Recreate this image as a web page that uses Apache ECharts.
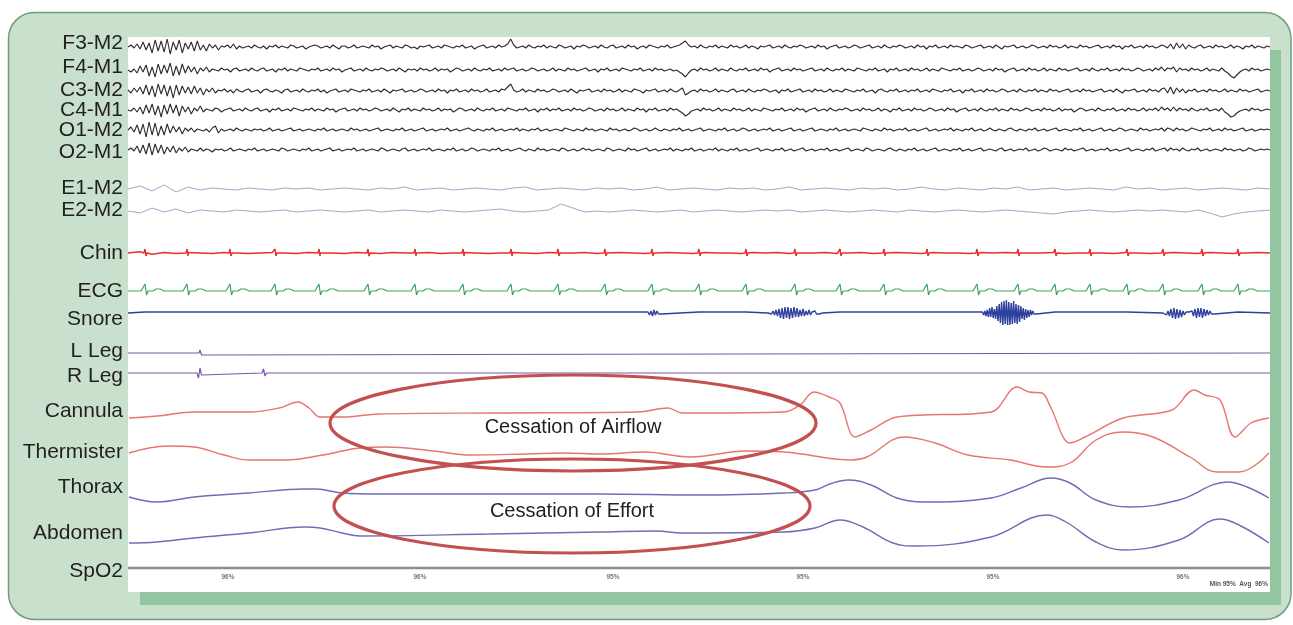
<!DOCTYPE html>
<html><head><meta charset="utf-8">
<script src="https://cdn.jsdelivr.net/npm/echarts@6/dist/echarts.min.js"></script>
<style>html,body{margin:0;padding:0;background:#fff}#c{width:1293px;height:625px}</style>
</head><body><div id="c"></div><script>
// ---------------- DATA (deflections in trace units, + = up; time t in 0..1142) ----------------
const channelNames = ["F3-M2","F4-M1","C3-M2","C4-M1","O1-M2","O2-M1","E1-M2","E2-M2","Chin","ECG","Snore","L Leg","R Leg","Cannula","Thermister","Thorax","Abdomen","SpO2"];

const f3m2 = [0,2,-1,3,-2,5,-3,4,-6,7,-4,6,-5,8,-7,5,-3,7,-6,4,
 -2,5,-4,6,-3,2,-4,3,-1,2,-3,1,0,2,-1,3,-2,1,-1,0,
 1,-1,2,0,-1,1,-2,1,0,2,-1,1,0,-1,2,1,-1,0,1,-2,
 0,1,2,1,-1,0,1,-1,2,0,-2,1,1,-1,0,2,-1,0,1,0,
 -1,2,0,1,-2,0,1,2,-1,1,0,-1,2,1,-1,0,-2,1,0,1,
 2,-1,0,1,-1,2,1,0,-1,1,0,2,-1,0,1,-2,0,1,2,-1,
 0,1,-1,2,0,1,3,8,2,-1,0,1,-1,2,0,-1,1,0,2,-1,
 1,0,-1,2,1,-1,0,1,-2,1,0,2,1,-1,0,1,-1,2,0,-1,
 1,2,-1,0,1,-1,2,0,1,-2,0,1,-1,2,1,0,-1,1,0,2,
 -1,0,1,2,4,6,2,0,1,-1,2,0,-1,1,0,2,-1,1,0,-1,
 2,0,1,-1,0,2,-1,1,0,-2,1,0,1,2,-1,0,1,-1,2,0,
 -1,1,0,2,1,-1,0,1,-1,2,0,1,-2,0,1,2,-1,0,1,-1,
 0,2,1,-1,0,1,2,-1,0,1,-1,2,0,-1,1,0,2,1,-1,0,
 1,-1,2,0,1,-2,1,0,2,-1,0,1,-1,2,0,1,0,-1,2,1,
 -1,0,1,2,-1,0,1,-1,2,0,-2,1,0,1,2,-1,0,1,-1,0,
 2,1,-1,0,1,-1,2,0,1,-1,0,2,-1,1,0,-1,2,0,1,-1,
 0,1,2,-1,0,1,-1,2,0,1,-2,1,0,2,-1,0,1,-1,2,0,
 1,-1,0,2,1,-1,3,-2,4,-1,3,-2,2,0,-1,1,2,-1,0,1,
 -1,2,0,1,-1,0,2,-1,1,0,-2,1,0,2,-1,1,0,-1,1,0];
const f4m1 = [0,-2,1,-3,4,-2,5,-6,3,-7,6,-4,5,-3,7,-6,4,-5,6,-3,
 4,-2,3,-4,2,-1,3,-2,1,0,-1,2,0,1,-2,1,2,-1,0,1,
 -1,2,0,-1,1,2,-1,0,1,-2,1,0,2,-1,1,0,-1,2,1,0,
 -1,1,0,2,-1,0,1,-1,2,0,1,-2,0,1,2,-1,0,1,-1,2,
 0,-1,1,0,2,1,-1,0,1,-1,2,0,-2,1,0,1,-1,2,0,1,
 -1,0,2,-1,1,0,1,-2,0,2,1,-1,0,1,-1,2,0,-1,1,0,
 2,-1,0,1,-1,2,0,1,2,-1,0,1,-1,0,2,1,-1,0,1,-1,
 0,2,-1,1,0,-1,2,0,1,-1,0,1,2,-1,0,1,-2,1,0,2,
 -1,0,1,-1,2,1,0,-1,1,0,2,-1,0,1,-1,2,0,1,-1,0,
 1,-1,0,-2,-4,-7,-3,0,1,-1,2,0,1,-1,0,2,-1,1,0,-1,
 2,0,-1,1,0,2,-1,0,1,-1,2,0,1,-2,0,1,2,-1,0,1,
 -1,2,0,1,-1,0,1,2,-1,0,1,-1,2,0,-1,1,0,2,-1,1,
 0,-1,2,1,0,-1,1,0,2,-1,0,1,-2,1,0,2,-1,0,1,-1,
 2,0,1,-1,0,2,-1,1,0,-1,2,1,0,-1,1,0,2,-1,0,1,
 -1,0,2,1,-1,0,1,-1,2,0,1,-2,0,1,2,-1,0,1,-1,2,
 0,1,-1,0,2,-1,1,0,-1,2,0,1,-1,0,1,2,-1,0,1,-1,
 2,0,-1,1,0,2,-1,0,1,-1,2,0,1,-1,0,2,1,-1,0,1,
 -1,2,0,3,-1,2,1,3,-2,2,0,1,-1,2,0,1,-1,0,2,-1,
 1,0,-1,2,-1,-3,-6,-8,-5,-2,0,1,-1,2,0,1,-1,0,1,0];
const c3m2 = [1,-2,3,-1,4,-3,6,-4,5,-6,7,-3,6,-5,5,-7,6,-4,5,-2,
 4,-3,5,-2,3,-4,2,-1,3,-2,1,0,2,-1,1,-2,2,0,-1,1,
 2,-1,0,1,-2,1,2,0,-1,1,0,-2,1,2,-1,0,1,-1,2,0,
 -1,1,0,2,-1,1,-2,0,1,2,-1,0,1,-1,2,1,0,-1,1,0,
 2,-1,0,1,-1,2,0,-2,1,0,1,2,-1,0,1,-1,0,2,1,-1,
 0,1,-1,2,0,1,-2,1,0,2,-1,0,1,-1,2,0,1,-1,0,2,
 -1,0,1,-1,2,1,4,7,1,-1,0,2,-1,1,0,-1,2,0,1,-1,
 0,2,1,-1,0,1,-1,2,0,-2,1,0,1,2,-1,0,1,-1,2,0,
 1,-1,0,2,-1,1,0,-1,2,1,0,-2,1,0,1,2,-1,0,1,-1,
 2,0,-1,1,3,-4,-2,0,1,-1,2,0,1,-1,0,2,-1,1,0,-1,
 1,2,-1,0,1,-1,2,0,-1,1,0,2,1,-1,0,1,-2,1,0,2,
 -1,0,1,2,-1,0,1,-1,2,0,1,-1,0,2,-1,1,0,-1,2,1,
 0,-1,1,0,2,-1,0,1,-2,1,2,0,-1,1,0,2,-1,0,1,-1,
 1,0,2,-1,0,1,-1,2,1,0,-1,1,0,2,-1,0,1,-2,1,0,
 2,-1,0,1,-1,2,0,1,-1,0,2,1,-1,0,1,-1,2,0,-1,1,
 0,2,-1,1,0,-1,2,0,1,-1,0,1,2,-1,0,1,-1,2,0,1,
 -1,0,1,2,-1,0,1,-1,2,0,-2,1,0,1,2,-1,0,1,-1,2,
 0,1,-1,2,3,-2,4,-3,3,-1,2,-2,1,0,2,-1,0,1,-1,2,
 0,1,-1,0,2,-1,1,0,-1,2,0,1,-1,0,1,2,-1,0,1,0];
const c4m1 = [0,-1,2,-2,3,-4,5,-3,6,-5,4,-7,5,-4,6,-3,5,-6,4,-2,
 3,-4,2,-1,4,-2,1,0,-1,2,1,-2,0,1,2,-1,0,1,-1,2,
 0,-1,1,2,-1,0,1,-2,1,0,2,-1,0,1,-1,2,1,0,-1,1,
 0,2,-1,1,0,-1,2,0,1,-2,0,1,2,-1,0,1,-1,2,0,1,
 -1,0,2,1,-1,0,1,-1,2,0,-2,1,0,2,-1,1,0,-1,2,0,
 1,-1,0,2,-1,1,0,1,-2,0,2,1,-1,0,1,-1,2,0,-1,1,
 0,2,-1,0,1,-1,2,1,0,-1,1,0,2,-1,0,1,-2,1,0,2,
 -1,1,0,2,-1,0,1,-1,2,0,1,-1,0,2,1,-1,0,1,-1,2,
 0,1,-1,0,2,-1,1,0,-1,2,0,1,-2,1,0,2,-1,0,1,-1,
 2,0,1,-1,-3,-6,-4,-1,0,1,-1,2,0,1,-1,0,2,-1,1,0,
 -1,2,0,1,-1,0,2,-1,1,0,-1,2,1,0,-1,1,0,2,-1,0,
 1,-1,2,0,1,-2,0,1,2,-1,0,1,-1,2,0,-1,1,0,2,1,
 -1,0,1,-1,2,0,1,-1,0,2,-1,1,0,-2,1,0,2,-1,0,1,
 -1,2,0,1,-1,0,2,1,-1,0,1,-1,2,0,1,-2,0,1,2,-1,
 0,1,-1,2,0,-1,1,0,2,-1,1,0,-1,2,0,1,-1,0,2,1,
 -1,0,1,-1,2,0,1,-1,0,2,-1,1,0,1,-2,0,2,1,-1,0,
 1,-1,2,0,-1,1,0,2,-1,0,1,-1,2,0,1,-1,0,2,-1,1,
 0,2,-1,3,0,2,-1,3,-1,2,0,1,-1,2,0,-1,1,0,2,-1,
 0,1,-1,2,-2,-4,-7,-6,-3,-1,0,1,-1,2,0,1,-1,0,1,0];
const o1m2 = [0,3,-2,5,-4,6,-7,8,-5,7,-6,4,-5,6,-3,4,-2,3,-4,2,
 -1,2,-2,1,0,-1,1,-2,2,4,-3,1,-1,0,1,-1,2,0,-1,1,
 0,-1,1,0,1,-1,0,2,-1,0,1,-1,0,1,2,-1,0,1,-1,0,
 1,0,-1,1,0,2,-1,0,1,-1,0,1,0,-1,2,0,1,-1,0,1,
 -1,0,1,2,-1,0,1,0,-1,1,0,2,-1,0,1,-1,0,1,2,-1,
 0,1,-1,0,1,0,2,-1,0,1,-1,0,1,2,0,-1,1,0,-1,1,
 0,2,-1,0,1,-1,0,1,0,2,-1,1,0,-1,1,0,2,-1,0,1,
 -1,0,1,0,-1,2,1,0,-1,1,0,-1,2,0,1,-1,0,1,0,-1,
 2,0,1,-1,0,1,-1,0,2,1,-1,0,1,-1,0,2,0,-1,1,0,
 -1,1,0,2,-1,0,1,-1,0,1,2,-1,0,1,0,-1,1,0,2,-1,
 0,1,-1,0,2,1,-1,0,1,-1,0,1,0,2,-1,0,1,-1,0,1,
 2,-1,0,1,-1,0,1,2,-1,0,1,0,-1,1,0,2,-1,0,1,-1,
 0,1,0,-1,2,1,0,-1,1,0,-1,2,0,1,-1,0,1,0,2,-1,
 0,1,-1,0,1,2,-1,0,1,-1,0,1,0,2,-1,1,0,-1,1,0,
 2,-1,0,1,-1,0,2,0,-1,1,0,-1,1,2,0,-1,1,0,-1,1,
 0,2,-1,0,1,-1,0,1,2,-1,0,1,0,-1,1,0,2,-1,0,1,
 -1,0,1,2,-1,0,1,-1,0,2,1,-1,0,1,0,-1,2,0,1,-1,
 0,1,0,2,-1,2,1,-1,2,0,1,-1,0,2,1,0,-1,1,0,2,
 -1,0,1,-1,2,0,1,-1,0,1,2,-1,0,1,-1,0,1,0,1,0];
const o2m1 = [0,2,-1,4,-3,5,-4,7,-5,6,-3,5,-4,3,-2,4,-3,2,-1,3,
 -2,1,0,-1,2,-1,1,0,-2,1,0,1,-1,0,2,-1,0,1,0,-1,
 1,0,2,-1,0,1,-1,0,1,0,-1,2,1,-1,0,1,0,-1,1,0,
 2,-1,0,1,-1,0,1,2,-1,0,1,-1,0,1,0,2,-1,0,1,-1,
 0,1,0,-1,2,1,-1,0,1,0,-1,1,2,-1,0,1,-1,0,1,0,
 2,-1,0,1,0,-1,1,0,2,-1,0,1,-1,0,2,1,-1,0,1,0,
 -1,1,0,2,-1,0,1,-1,0,1,2,0,-1,1,0,-1,2,0,1,-1,
 0,1,0,-1,2,1,-1,0,1,-1,0,2,0,1,-1,0,1,0,-1,2,
 1,-1,0,1,0,-1,2,0,1,-1,0,1,2,-1,0,1,-1,0,1,0,
 2,-1,1,0,-1,1,0,2,-1,0,1,-1,0,1,0,2,-1,1,0,-1,
 1,0,2,-1,0,1,-1,0,1,2,-1,0,1,0,-1,1,0,2,-1,0,
 1,-1,0,1,2,-1,0,1,-1,0,1,0,2,-1,0,1,-1,0,1,2,
 -1,0,1,0,-1,2,1,-1,0,1,0,-1,1,2,0,-1,1,0,-1,1,
 0,2,-1,0,1,-1,0,1,2,-1,0,1,0,-1,1,0,2,-1,0,1,
 -1,0,1,2,-1,0,1,0,-1,1,2,-1,0,1,-1,0,1,0,2,-1,
 0,1,-1,0,2,1,-1,0,1,0,-1,2,0,1,-1,0,1,2,-1,0,
 1,-1,0,1,0,2,-1,0,1,-1,0,1,2,-1,0,1,0,-1,1,0,
 2,-1,0,1,2,-1,2,0,1,-1,2,0,-1,1,0,2,-1,0,1,-1,
 0,1,0,-1,2,0,1,-1,0,1,-1,0,2,1,-1,0,1,0,1,0];
const e1m2 = [0,3,-2,4,-3,2,-1,1,0,-1,1,0,-1,1,0,1,-1,0,1,0,
 -1,1,0,2,-1,0,1,-1,0,1,0,-1,1,2,-1,0,1,0,-1,1,
 0,1,-1,0,2,-1,0,1,0,-1,1,0,1,-1,0,2,-1,0,1,0,
 -1,1,0,1,-1,0,2,0,-1,1,0,-1,1,0,2,-1,0,1,-1,0,
 1,0,-1,2,0,1,-1,0,1,-1,0,1,0,-1,1,0];
const e2m2 = [0,-2,3,-1,2,-2,1,0,-1,1,0,-1,0,1,-1,0,1,0,-1,0,
 1,-1,0,1,0,-1,1,0,-1,0,1,2,0,-1,0,1,7,3,-1,0,
 -1,0,1,0,-1,0,1,-1,0,1,0,-1,0,1,0,1,-1,0,1,0,
 -1,0,1,0,-1,1,0,-1,0,1,0,-1,0,1,0,-1,-2,-3,-1,0,
 1,0,-1,0,1,0,1,0,-1,1,-2,-6,-3,-1,0,1];
const chinNoise = [0,2,-2,1,-1,1,0,-1,1,0,-1,0,1,0,-1,1,0,0,-1,1,
 0,-1,1,0,0,1,-1,0,1,0,-1,0,1,0,-1,1,0,0,1,-1,
 0,1,0,-1,0,1,0,-1,1,0,0,-1,1,0,1,-1,0,0,1,-1,
 0,1,-1,0,1,0,-1,1,0,0,-1,1,0,1,-1,0,0,1,-1,0,
 1,0,-1,1,0,-1,0,1,0,-1,1,0,-1,0,1,0];
// R-peak times
const heartBeats = [17,59,102,147,191,240,287,335,383,430,477,524,571,618,667,712,756,799,849,890,927,962,999,1035,1074,1110];
const ecgComplex = [[-4,0],[-2,-1],[0,7],[1.5,-4],[3,0],[8,0],[11,2],[15,2],[19,0]];
const chinArtifact = [[-1,0],[0,4],[1,-3],[2,0]];
// snore bursts: [start time, amplitudes]
const snoreBurstA = [520, [1,-2,2,-3,3,-2,2,-1,1,-1]];
const snoreBurstB = [642, [1,-1,2,-2,3,-3,4,-5,5,-6,6,-5,6,-6,5,-5,6,-4,5,-4,3,-3,4,-3,2,-2,3,-2,1,-1,2,-1,1,-1,1,0]];
const snoreBurstC = [852, [1,-1,1,-2,2,-3,3,-4,5,-4,6,-5,4,-6,7,-8,9,-10,11,-12,12,-11,13,-12,11,-12,10,-11,12,-10,9,-11,8,-9,7,-6,5,-7,4,-5,3,-4,3,-2,2,-1,1,-1]];
const snoreBurstD = [1037, [1,-2,2,-3,4,-5,5,-6,4,-5,3,-4,2,-2,1,-1,1,-1,2,-3,4,-5,5,-4,5,-5,4,-3,3,-2,2,-1,1,-1]];
const lLegEvents = [[0,0],[71,0],[72,3],[73.5,-2],[75,0],[1142,0]];
const rLegEvents = [[0,0],[69,0],[70.5,-5],[72,5],[73.5,-2],[75,0],[134,0],[135.5,4],[137,-3],[138.5,0],[175,0],[176,1.5],[177,0],[1142,0]];
const cannula = [[1,-6],[29,-4],[66,0],[121,0],[151,4],[170,10],[181,4],[192,-5],[214,-5],[251,-2],[362,-1],[510,0],[540,4],[554,-1],[572,-1],[656,0],[672,7],[686,20],[701,15],[712,9],[727,-25],[743,-18],[769,-5],[863,0],[889,25],[901,20],[914,19],[923,4],[942,-31],[957,-25],[995,-6],[1044,2],[1066,22],[1077,17],[1092,12],[1107,-25],[1123,-11],[1141,-6]];
const thermister = [[1,-1],[40,6],[66,5],[96,-3],[121,-8],[158,-8],[195,-3],[232,4],[258,5],[306,1],[343,-3],[399,-2],[436,-1],[473,-2],[517,0],[562,-5],[618,1],[656,0],[724,-8],[739,-5],[776,15],[807,9],[840,-3],[882,-8],[919,-15],[942,-11],[968,12],[995,20],[1025,15],[1062,-5],[1089,-20],[1111,-20],[1141,-1]];
const thorax = [[1,-3],[29,-8],[66,-3],[121,1],[177,5],[188,5],[214,1],[251,0],[362,0],[473,0],[572,-1],[656,1],[687,4],[702,10],[720,14],[743,9],[769,-4],[795,-8],[863,-4],[893,6],[923,16],[942,11],[968,-6],[1002,-13],[1051,-6],[1100,12],[1119,7],[1141,-4]];
const abdomen = [[1,-9],[29,-8],[66,-4],[121,1],[177,7],[192,6],[214,1],[232,-2],[362,0],[473,2],[528,3],[554,1],[656,2],[687,6],[712,14],[735,7],[765,-9],[788,-12],[863,-3],[919,19],[938,12],[968,-8],[995,-16],[1051,-6],[1092,15],[1111,9],[1141,-9]];
const spo2Times = [100,292,485,675,865,1055];
const spo2Values = [96,96,95,95,95,96];
const spo2Summary = "Min 95%  Avg  96%";

// ---------------- LAYOUT / STYLE ----------------
const GRID = {left:128, top:37, width:1142, height:555};
const T_MAX = 1142;
const px = y => y - GRID.top;           // screen y -> value coordinate (inverse axis)
const baseY = {F3:47,F4:70,C3:91,C4:110,O1:130,O2:150,E1:189,E2:211,Chin:253,ECG:291,Snore:313,LLeg:353,RLeg:373,Can:412,Th:452,Tx:494,Ab:534,SpO2:568};
const labelY = [43,67,90,110,130,152,188,210,253,291,319,351,376,411,452,487,533,571];

function sampled(arr, by, gain){ const b=px(by), n=arr.length; return arr.map((v,i)=>[i*T_MAX/(n-1), b - v*gain]); }
function pairs(arr, by, gain){ const b=px(by); return arr.map(([t,v])=>[t, b - v*gain]); }
function beatsTrace(beats, shape, by, gain, extra){
  const b=px(by); let pts=[[0,b],[T_MAX,b]];
  beats.forEach(t=>shape.forEach(([dt,v])=>pts.push([t+dt, b - v*gain])));
  if(extra) pts = pts.concat(extra);
  pts.sort((a,c)=>a[0]-c[0]);
  return pts;
}
function burstPts(burst, by, gain, step){ const b=px(by); const [t0,vals]=burst; return vals.map((v,i)=>[t0+i*step, b - v*gain]); }

const chinPts = beatsTrace(heartBeats, chinArtifact, baseY.Chin, 1, sampled(chinNoise, baseY.Chin, 0.6));
const snoreBase = px(baseY.Snore);
let snorePts = [[0,snoreBase]].concat(
  burstPts(snoreBurstA, baseY.Snore, 1, 1.5),[[640,snoreBase]],
  burstPts(snoreBurstB, baseY.Snore, 1, 1.5),[[850,snoreBase]],
  burstPts(snoreBurstC, baseY.Snore, 1, 1.2),[[1035,snoreBase]],
  burstPts(snoreBurstD, baseY.Snore, 1, 1.5),[[T_MAX,snoreBase]]);
heartBeats.forEach(t=>{ if(!(t>515&&t<535)&&!(t>640&&t<700)&&!(t>850&&t<912)&&!(t>1035&&t<1090)) snorePts.push([t, snoreBase-1],[t+2,snoreBase]); });
snorePts.sort((a,c)=>a[0]-c[0]);

function line(data, color, width, smooth){
  return {type:'line', data, showSymbol:false, symbol:'none', smooth: smooth||false, silent:true, animation:false,
          lineStyle:{color, width}, itemStyle:{color}, z:3};
}
const EEG='#2a2a2a', EOG='#a4a4c6', RED='#e8302c', GREEN='#3fa45c', BLUE='#2f3f9e', PURPLE='#7b56a8', SALMON='#e8756e', RESP='#6f6db5';

const series = [
  line(sampled(f3m2, baseY.F3, 1), EEG, 1.1),
  line(sampled(f4m1, baseY.F4, 1), EEG, 1.1),
  line(sampled(c3m2, baseY.C3, 1), EEG, 1.1),
  line(sampled(c4m1, baseY.C4, 1), EEG, 1.1),
  line(sampled(o1m2, baseY.O1, 1), EEG, 1.1),
  line(sampled(o2m1, baseY.O2, 1), EEG, 1.1),
  line(sampled(e1m2, baseY.E1, 1), EOG, 1),
  line(sampled(e2m2, baseY.E2, 1), EOG, 1),
  line(chinPts, RED, 1.5),
  line(beatsTrace(heartBeats, ecgComplex, baseY.ECG, 1), GREEN, 1.2),
  line(snorePts, BLUE, 1.4),
  line(pairs(lLegEvents, baseY.LLeg, 1), PURPLE, 1.2),
  line(pairs(rLegEvents, baseY.RLeg, 1), PURPLE, 1.2),
  line(pairs(cannula, baseY.Can, 1), SALMON, 1.4, 0.35),
  line(pairs(thermister, baseY.Th, 1), SALMON, 1.4, 0.4),
  line(pairs(thorax, baseY.Tx, 1), RESP, 1.4, 0.4),
  line(pairs(abdomen, baseY.Ab, 1), RESP, 1.4, 0.4),
  line([[0,px(baseY.SpO2)],[T_MAX,px(baseY.SpO2)]], '#8d8d8d', 2.5),
  {type:'scatter', silent:true, animation:false, symbolSize:0, z:4,
   data: spo2Times.map((t,i)=>[t, px(baseY.SpO2)+9, spo2Values[i]]),
   label:{show:true, position:'inside', formatter:p=>p.value[2]+'%', fontSize:6.5, fontWeight:'bold', color:'#555', fontFamily:'Liberation Sans, Arial'}}
];

const chart = echarts.init(document.getElementById('c'));
const labelFont = '21px "Liberation Sans", Arial, sans-serif';
const graphics = [
  {type:'rect', z:-10, silent:true, shape:{x:8.5,y:12.5,width:1282.5,height:607,r:26}, style:{fill:'#c8e0cc', stroke:'#6f9e78', lineWidth:1.5}},
  {type:'rect', z:-9, silent:true, shape:{x:140,y:50,width:1141,height:555}, style:{fill:'#93c6a0'}},
  {type:'rect', z:-8, silent:true, shape:{x:GRID.left,y:GRID.top,width:GRID.width,height:GRID.height}, style:{fill:'#ffffff'}}
];
channelNames.forEach((n,i)=>graphics.push({type:'text', z:5, silent:true,
  style:{text:n, x:123, y:labelY[i], textAlign:'right', textVerticalAlign:'middle', verticalAlign:'middle', font:labelFont, fill:'#231f20'}}));
graphics.push({type:'text', z:5, silent:true, style:{text:spo2Summary, x:1268, y:584, textAlign:'right', verticalAlign:'middle', textVerticalAlign:'middle', font:'bold 6.5px "Liberation Sans", Arial', fill:'#555'}});

chart.setOption({
  animation:false,
  grid:{left:GRID.left, top:GRID.top, width:GRID.width, height:GRID.height, containLabel:false},
  xAxis:{type:'value', min:0, max:T_MAX, show:false},
  yAxis:{type:'value', min:0, max:GRID.height, inverse:true, show:false},
  graphic:graphics,
  series
});

// annotation ellipses placed in data coordinates
const ann = [
  {t:445, y:px(423), rx:243, ry:48, text:'Cessation of Airflow', ty:px(427)},
  {t:444, y:px(506), rx:238, ry:47, text:'Cessation of Effort', ty:px(511)}
];
const extra = [];
ann.forEach(a=>{
  const [cx,cy] = chart.convertToPixel({gridIndex:0}, [a.t, a.y]);
  const [tx,ty] = chart.convertToPixel({gridIndex:0}, [a.t, a.ty]);
  extra.push({type:'ellipse', z:20, silent:true, shape:{cx, cy, rx:a.rx, ry:a.ry}, style:{fill:null, stroke:'#c2504f', lineWidth:3.2}});
  extra.push({type:'text', z:21, silent:true, style:{text:a.text, x:tx, y:ty, textAlign:'center', verticalAlign:'middle', textVerticalAlign:'middle', font:'20px "Liberation Sans", Arial, sans-serif', fill:'#231f20'}});
});
chart.setOption({graphic: graphics.concat(extra)});
</script></body></html>
